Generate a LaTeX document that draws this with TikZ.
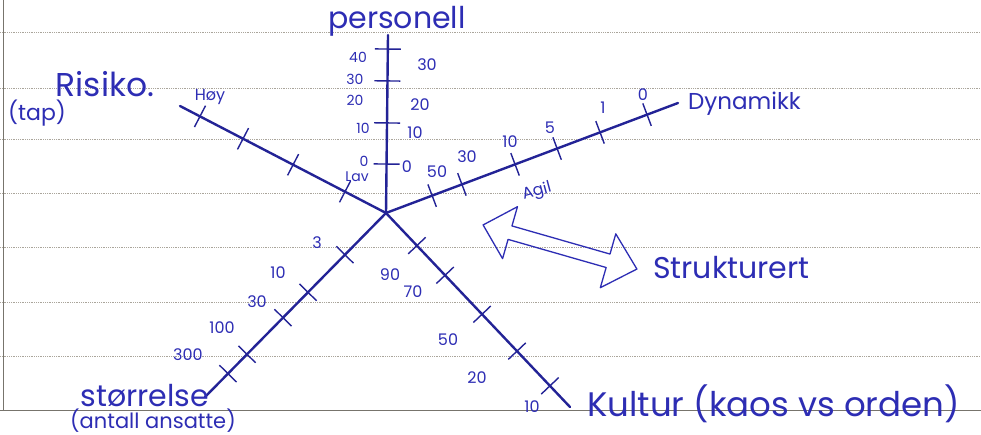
\documentclass[tikz,border=0pt]{standalone}
\usepackage{fontspec}
\setmainfont{Poppins}
\usetikzlibrary{calc}
\definecolor{ink}{RGB}{45,45,180}
\definecolor{inkdark}{RGB}{35,35,150}
\definecolor{paperrule}{RGB}{170,165,155}

\begin{document}
\begin{tikzpicture}[x=1pt, y=-1pt,
    axis/.style={draw=inkdark, line width=2.4pt, line cap=round},
    tickmark/.style={draw=inkdark, line width=1.4pt},
    lbl/.style={text=ink, inner sep=0pt, font=\fontsize{24}{24}\selectfont},
    num/.style={text=ink, inner sep=0pt, font=\fontsize{16}{16}\selectfont}]
    % paper
    \fill[white] (0,0) rectangle (981,435);
    \useasboundingbox (0,0) rectangle (981,435);
    \foreach \y in {32,88,139,193,247,302,356}
        \draw[paperrule, densely dotted, line width=0.8pt] (0,\y) -- (981,\y);
    \draw[paperrule!70!black, line width=1pt] (0,410) -- (981,410);
    \draw[paperrule!70!black, line width=1pt] (3,0) -- (3,410);

    % axes
    \coordinate (o) at (386,213);
    \coordinate (pers) at (388,35);
    \coordinate (risk) at (180,106);
    \coordinate (dyn) at (678,103);
    \coordinate (size) at (205,397);
    \coordinate (cult) at (570,407);
    \foreach \e in {pers,risk,dyn,size,cult}
        \draw[axis] (o) -- (\e);

    % ticks
    \foreach \t in {0.275,0.506,0.742,0.921}
        \draw[tickmark] ($(o)!\t!(pers)!13pt!90:(pers)$) -- ($(o)!\t!(pers)!-13pt!90:(pers)$);
    \foreach \t in {0.199,0.451,0.694,0.903}
        \draw[tickmark] ($(o)!\t!(risk)!12pt!90:(risk)$) -- ($(o)!\t!(risk)!-12pt!90:(risk)$);
    \foreach \t in {0.158,0.260,0.442,0.586,0.733,0.894}
        \draw[tickmark] ($(o)!\t!(dyn)!12pt!90:(dyn)$) -- ($(o)!\t!(dyn)!-12pt!90:(dyn)$);
    \foreach \t in {0.227,0.431,0.569,0.768,0.873}
        \draw[tickmark] ($(o)!\t!(size)!12pt!90:(size)$) -- ($(o)!\t!(size)!-12pt!90:(size)$);
    \foreach \t in {0.168,0.321,0.522,0.712,0.891}
        \draw[tickmark] ($(o)!\t!(cult)!12pt!90:(cult)$) -- ($(o)!\t!(cult)!-12pt!90:(cult)$);

    % axis titles
    \node[lbl, font=\fontsize{30}{30}\selectfont] (perst) at (397,21) {personell};
    \node[lbl, font=\fontsize{33}{33}\selectfont] (riskt) at (105,84) {Risiko.};
    \node[lbl, font=\fontsize{22}{22}\selectfont] (tap) at (37,113) {(tap)};
    \node[lbl, anchor=west, font=\fontsize{23}{23}\selectfont] (dynt) at (688,104) {Dynamikk};
    \node[lbl, font=\fontsize{30}{30}\selectfont] (sizet) at (145,396) {størrelse};
    \node[lbl, font=\fontsize{21}{21}\selectfont] (ansatte) at (153,421) {(antall ansatte)};
    \node[lbl, anchor=west, font=\fontsize{34}{34}\selectfont] (cultt) at (587,404) {Kultur (kaos vs orden)};
    \node[lbl, anchor=west, font=\fontsize{30}{30}\selectfont] (strukt) at (653,268) {Strukturert};
    \node[num] (hoy) at (210,97) {Høy};
    \node[num, font=\fontsize{14}{14}\selectfont] (lav) at (357,177) {Lav};
    \node[num, rotate=15] (agil) at (537,192) {Agil};

    % scale values
    \foreach \x/\y/\v [count=\i] in {358/57/40,355/79/30,355/100/20,363/128/10,364/161/0}
        \node[num, font=\fontsize{14}{14}\selectfont] (pl\i) at (\x,\y) {\v};
    \foreach \x/\y/\v [count=\i] in {427/65/30,420/105/20,415/133/10,407/167/0}
        \node[num] (pr\i) at (\x,\y) {\v};
    \foreach \x/\y/\v [count=\i] in {643/95/0,603/108/1,550/128/5,510/142/10,467/157/30,437/172/50}
        \node[num] (dv\i) at (\x,\y) {\v};
    \foreach \x/\y/\v [count=\i] in {317/243/3,278/273/10,257/302/30,222/328/100,188/355/300}
        \node[num] (sv\i) at (\x,\y) {\v};
    \foreach \x/\y/\v [count=\i] in {390/275/90,413/292/70,448/340/50,477/378/20,532/407/10}
        \node[num] (cv\i) at (\x,\y) {\v};

    % agil - strukturert arrow
    \begin{scope}[shift={(560,247)}, rotate=-16]
        \draw[ink, line width=1.3pt, line join=round]
            (-80,0) -- (-52,-27) -- (-52,-7) -- (50,-7) -- (50,-28) -- (80,0)
            -- (50,28) -- (50,7) -- (-52,7) -- (-52,27) -- cycle;
    \end{scope}
\end{tikzpicture}
\end{document}
